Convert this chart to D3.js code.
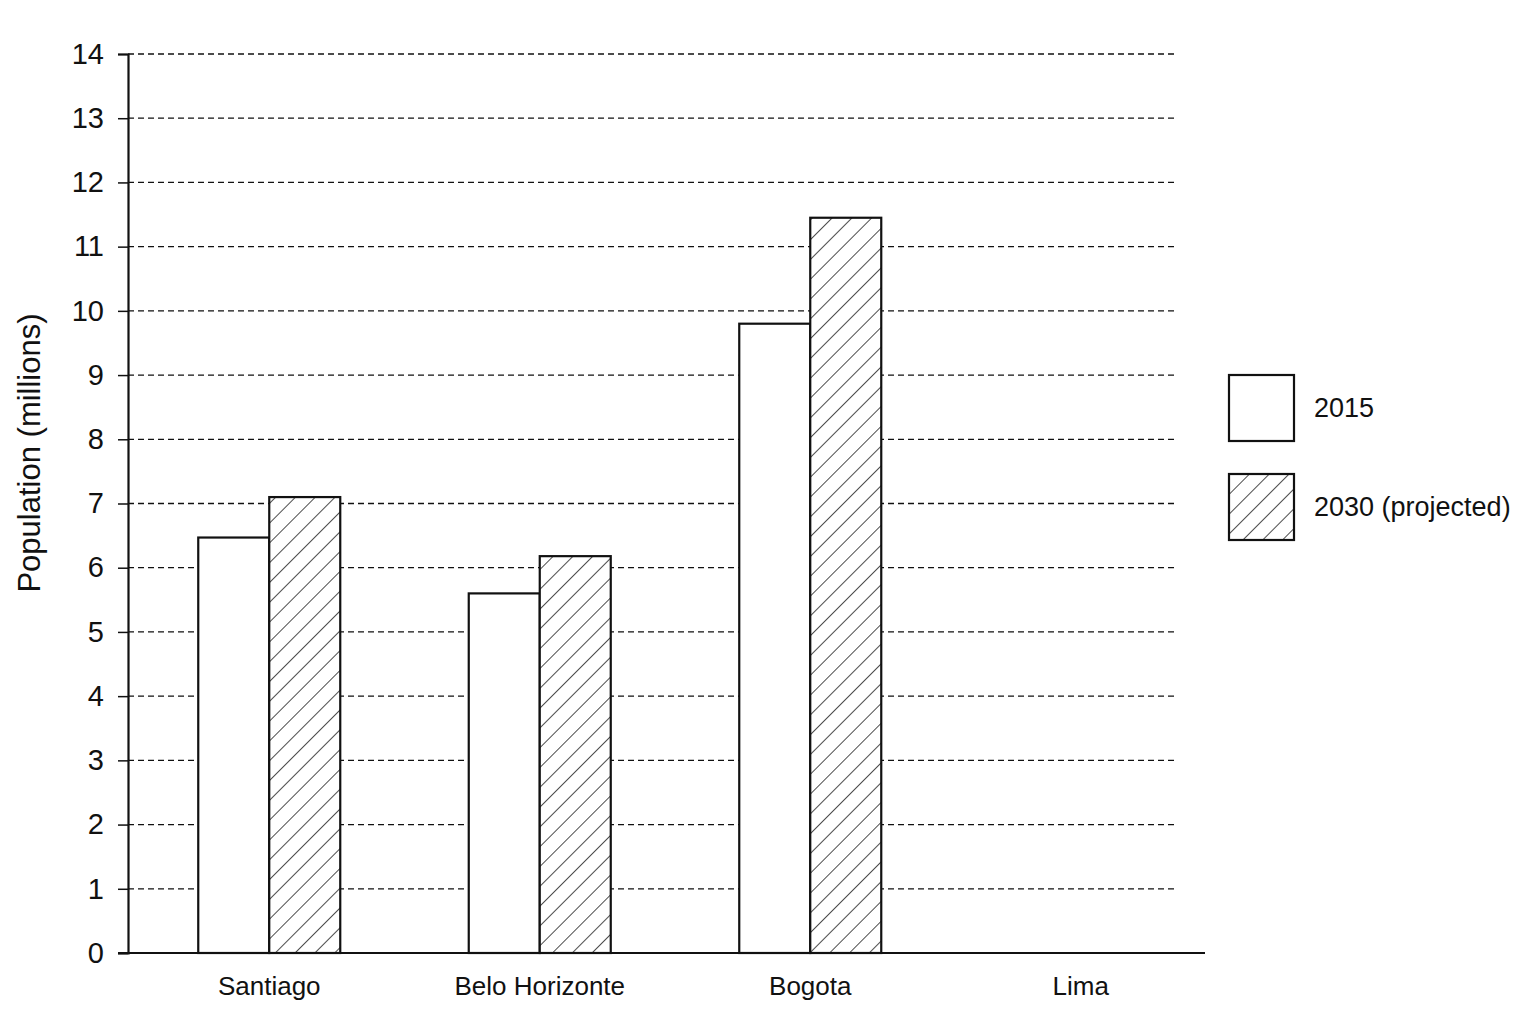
<!DOCTYPE html>
<html><head><meta charset="utf-8">
<script src="https://cdn.jsdelivr.net/npm/d3@7"></script>
<style>body{margin:0;background:#fff}text{font-family:"Liberation Sans",Arial,sans-serif;fill:#111}</style>
</head><body>
<svg id="c" width="1536" height="1024"></svg>
<script>
const categories=["Santiago","Belo Horizonte","Bogota","Lima"];
const series=["2015","2030 (projected)"];
const values2015=[6.47,5.6,9.8,null];
const values2030=[7.1,6.18,11.45,null];
const yTicks=d3.range(0,15);

const svg=d3.select("#c");
const x=d3.scaleBand().domain(categories).range([134,1216]);
const y=d3.scaleLinear().domain([0,14]).range([953,54]);
const defs=svg.append("defs");
const p=defs.append("pattern").attr("id","hatch").attr("patternUnits","userSpaceOnUse")
 .attr("width",14).attr("height",14).attr("patternTransform","rotate(45)");
p.append("rect").attr("width",14).attr("height",14).attr("fill","#fff");
p.append("line").attr("x1",0).attr("y1",0).attr("x2",0).attr("y2",14).attr("stroke","#111").attr("stroke-width",1.5);

svg.append("g").selectAll("line").data(yTicks.filter(d=>d>0)).join("line")
 .attr("x1",128).attr("x2",1178).attr("y1",d=>y(d)).attr("y2",d=>y(d))
 .attr("stroke","#111").attr("stroke-width",1.3).attr("stroke-dasharray","6,4");

const bw=71;
const fills=["#fff","url(#hatch)"];
[values2015,values2030].forEach((vals,si)=>{
 svg.append("g").selectAll("rect").data(categories.map((c,i)=>({c,v:vals[i]})).filter(d=>d.v!=null)).join("rect")
  .attr("x",d=>x(d.c)+x.bandwidth()/2-bw+si*bw).attr("width",bw)
  .attr("y",d=>y(d.v)).attr("height",d=>y(0)-y(d.v))
  .attr("fill",fills[si]).attr("stroke","#111").attr("stroke-width",2.2);
});

const ya=svg.append("g").attr("transform","translate(128,0)").call(d3.axisLeft(y).tickValues(yTicks).tickSize(10).tickFormat(d3.format("d")));
ya.select(".domain").attr("stroke","#111").attr("stroke-width",2.2);
ya.selectAll(".tick line").attr("stroke","#111").attr("stroke-width",1.5);
ya.selectAll("text").attr("font-size",29).attr("x",-24).attr("textLength",null);
const xa=svg.append("g").attr("transform","translate(0,953)").call(d3.axisBottom(x).tickSize(0).tickSizeOuter(0));
xa.select(".domain").attr("d","M118,0H1205").attr("stroke","#111").attr("stroke-width",2.2);
xa.selectAll("text").attr("font-size",26).attr("dy",0).attr("y",42);

svg.append("text").attr("transform","translate(40,453) rotate(-90)").attr("text-anchor","middle").attr("font-size",31).text("Population (millions)");

const lg=svg.append("g").selectAll("g").data(series).join("g").attr("transform",(d,i)=>`translate(1229,${375+i*99})`);
lg.append("rect").attr("width",65).attr("height",66).attr("fill",(d,i)=>fills[i]).attr("stroke","#111").attr("stroke-width",2.2);
lg.append("text").attr("x",85).attr("y",42).attr("font-size",27).text(d=>d);
</script>
</body></html>
